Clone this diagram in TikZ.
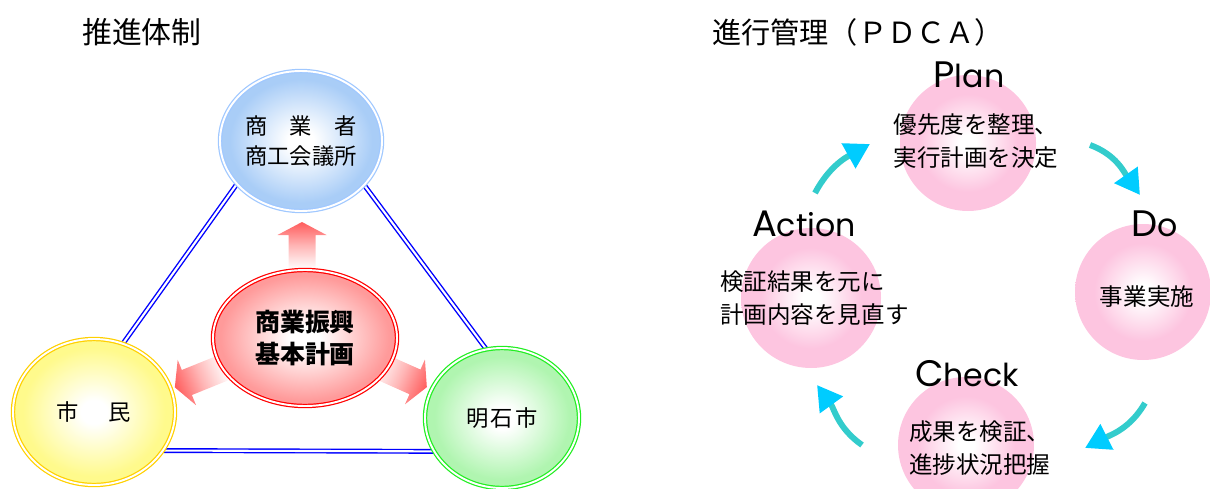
\documentclass[tikz,border=0pt]{standalone}
\usepackage{fontspec}
\newfontfamily\jp{Noto Sans CJK JP}
\newfontfamily\lat{Poppins}
\usetikzlibrary{shapes.geometric,arrows.meta}
\pgfdeclarelayer{background}
\pgfsetlayers{background,main}
\newdimen\pxu \pxu=0.02cm
\definecolor{bluerim}{HTML}{A0C8FF}
\definecolor{bluefill}{HTML}{A9CDF7}
\definecolor{yellowrim}{HTML}{FFD000}
\definecolor{yellowfill}{HTML}{FFFA8C}
\definecolor{greenrim}{HTML}{22EE22}
\definecolor{greenfill}{HTML}{B0F5B0}
\definecolor{redrim}{HTML}{FF0000}
\definecolor{redfill}{HTML}{FF9A9A}
\definecolor{pinkfill}{HTML}{FDC5E0}
\definecolor{arrowred}{HTML}{FF5C5C}
\definecolor{shaftcol}{HTML}{33CCCC}
\definecolor{tipcol}{HTML}{00CCFF}
\pgfdeclareradialshading{blueball}{\pgfpoint{0bp}{0bp}}{color(0bp)=(white); color(4bp)=(white); color(22bp)=(bluefill); color(50bp)=(bluefill)}
\pgfdeclareradialshading{yellowball}{\pgfpoint{0bp}{0bp}}{color(0bp)=(white); color(4bp)=(white); color(22bp)=(yellowfill); color(50bp)=(yellowfill)}
\pgfdeclareradialshading{greenball}{\pgfpoint{0bp}{0bp}}{color(0bp)=(white); color(4bp)=(white); color(22bp)=(greenfill); color(50bp)=(greenfill)}
\pgfdeclareradialshading{redball}{\pgfpoint{0bp}{0bp}}{color(0bp)=(white); color(4bp)=(white); color(23bp)=(redfill); color(50bp)=(redfill)}
\pgfdeclareradialshading{pinkball}{\pgfpoint{0bp}{0bp}}{color(0bp)=(white); color(3bp)=(white); color(18bp)=(pinkfill); color(50bp)=(pinkfill)}
\newcommand\blockarrow[3]{%
  \begin{scope}[transform canvas={shift={#1},rotate=#2}]
    \path[left color=white,right color=arrowred,middle color=arrowred!45] (-#3,-13.5) -- (12,-13.5) -- (12,-24.5) -- (25,0)
      -- (12,24.5) -- (12,13.5) -- (-#3,13.5) -- cycle;
  \end{scope}}

\begin{document}
\begin{tikzpicture}[x=0.02cm,y=0.02cm,
  ring/.style={ellipse,inner sep=0pt,line width=0.7pt,double=white,double distance=1.1pt,align=center},
  dline/.style={draw=blue,line width=0.8pt,double=white,double distance=1.2pt},
  ball/.style={circle,inner sep=0pt,minimum size=136\pxu,shading=pinkball},
  pdtext/.style={align=center,font=\jp\fontsize{13.4}{18.5}\selectfont},
  lab/.style={font=\lat\fontsize{18}{20}\selectfont},
  cyc/.style={draw=shaftcol,line width=3.4pt,-{Triangle[length=14pt,width=15.5pt,color=tipcol]}}]
  \useasboundingbox (0,0) rectangle (1210,488);
  \node[anchor=west,font=\jp\fontsize{17}{20}\selectfont] (title1) at (76,456) {推進体制};
  \node[anchor=west,font=\jp\fontsize{16.6}{20}\selectfont] (title2) at (706,456) {進行管理（ＰＤＣＡ）};

  \blockarrow{(302,241)}{90}{22}
  \blockarrow{(198,110)}{202}{30}
  \blockarrow{(404,111)}{-24}{30}
  \node[ring,minimum width=184\pxu,minimum height=136\pxu,shading=redball,draw=redrim,
    font=\jp\bfseries\fontsize{14.2}{18.7}\selectfont] (keikaku) at (305,150) {商業振興\\基本計画};
  \node[ring,minimum width=162\pxu,minimum height=140\pxu,shading=blueball,draw=bluerim,
    font=\jp\fontsize{12.7}{17}\selectfont] (shoko) at (301,347) {商　業　者\\商工会議所};
  \node[ring,minimum width=162\pxu,minimum height=146\pxu,shading=yellowball,draw=yellowrim,
    font=\jp\fontsize{12.7}{17}\selectfont] (shimin) at (94,76) {市\hspace{30\pxu}民};
  \node[ring,minimum width=154\pxu,minimum height=140\pxu,shading=greenball,draw=greenrim,
    font=\jp\fontsize{12.7}{17}\selectfont] (akashi) at (502,70) {明\hspace{2\pxu}石\hspace{2\pxu}市};
  \begin{pgfonlayer}{background}
    \draw[dline] (shoko.214) -- (shimin.67);
    \draw[dline] (shoko.325) -- (akashi.103);
    \draw[dline] (shimin.331) -- (akashi.206);
  \end{pgfonlayer}

  \node[ball] (plan) at (968,345) {};
  \node[ball] (do) at (1143,196) {};
  \node[ball] (check) at (966,43) {};
  \node[ball,minimum size=140\pxu] (action) at (811,190) {};
  \node[lab] (planlab) at (969,413) {{\fontsize{21}{20}\selectfont P}lan};
  \node[lab] (dolab) at (1155,264) {{\fontsize{21}{20}\selectfont D}o};
  \node[lab] (checklab) at (967,114) {{\fontsize{21}{20}\selectfont C}heck};
  \node[lab] (actionlab) at (804,264) {{\fontsize{21}{20}\selectfont A}ction};
  \node[pdtext] (plantxt) at (976,347) {優先度を整理、\\実行計画を決定};
  \node[pdtext] (dotxt) at (1147,191) {事業実施};
  \node[pdtext,anchor=west,align=left] (actiontxt) at (714,190) {検証結果を元に\\計画内容を見直す};
  \node[pdtext,anchor=west,align=left] (checktxt) at (903,40) {成果を検証、\\進捗状況把握};

  \coordinate (ap0) at (815,295); \coordinate (ap1) at (870,344);
  \coordinate (pd0) at (1090,343); \coordinate (pd1) at (1140,293);
  \coordinate (dc0) at (1145,85); \coordinate (dc1) at (1085,40);
  \coordinate (ca0) at (862,43); \coordinate (ca1) at (817,103);
  \draw[cyc] (ap0) to[out=62,in=209] (ap1);
  \draw[cyc] (pd0) to[out=-20,in=125] (pd1);
  \draw[cyc] (dc0) to[out=240,in=27] (dc1);
  \draw[cyc] (ca0) to[out=145,in=-54] (ca1);
\end{tikzpicture}
\end{document}
